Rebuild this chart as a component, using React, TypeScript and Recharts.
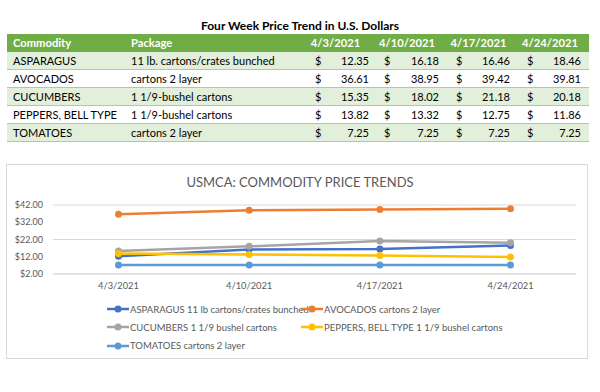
import React from "react";
import { LineChart, Line, XAxis, YAxis, CartesianGrid } from "recharts";

const dates = ["4/3/2021", "4/10/2021", "4/17/2021", "4/24/2021"];
const commodities = ["ASPARAGUS", "AVOCADOS", "CUCUMBERS", "PEPPERS, BELL TYPE", "TOMATOES"];
const packages = [
  "11 lb. cartons/crates bunched",
  "cartons 2 layer",
  "1 1/9-bushel cartons",
  "1 1/9-bushel cartons",
  "cartons 2 layer",
];
const legendNames = [
  "ASPARAGUS 11 lb cartons/crates bunched",
  "AVOCADOS cartons 2 layer",
  "CUCUMBERS 1 1/9 bushel cartons",
  "PEPPERS, BELL TYPE 1 1/9 bushel cartons",
  "TOMATOES cartons 2 layer",
];
const asparagus = [12.35, 16.18, 16.46, 18.46];
const avocados = [36.61, 38.95, 39.42, 39.81];
const cucumbers = [15.35, 18.02, 21.18, 20.18];
const peppers = [13.82, 13.32, 12.75, 11.86];
const tomatoes = [7.25, 7.25, 7.25, 7.25];
const yTicks = [2, 12, 22, 32, 42];
const colors = ["#4472C4", "#ED7D31", "#A5A5A5", "#FFC000", "#5B9BD5"];

const seriesValues = [asparagus, avocados, cucumbers, peppers, tomatoes];
const keys = ["s0", "s1", "s2", "s3", "s4"];
const data = dates.map((d, i) => {
  const row: Record<string, any> = { date: d };
  seriesValues.forEach((s, j) => (row[keys[j]] = s[i]));
  return row;
});

const FONT = "Lato, 'Open Sans', sans-serif";

const colLeft = [13, 131];
const dollarX = [315, 384, 456, 527];
const valueRight = [369, 439, 510, 581];
const headerCenter = [335.5, 407, 478.5, 550];

function Table() {
  const rowTop = 52;
  const rowH = 18;
  const cells: React.ReactNode[] = [];
  cells.push(
    <div key="hdr" style={{ position: "absolute", left: 7, top: 34, width: 582, height: 18, background: "#70AD47" }} />
  );
  const hStyle: React.CSSProperties = {
    position: "absolute",
    top: 34,
    height: 18,
    lineHeight: "18px",
    color: "#fff",
    fontWeight: 700,
    fontSize: 11.2,
    whiteSpace: "nowrap",
  };
  cells.push(<div key="h0" style={{ ...hStyle, left: colLeft[0] }}>Commodity</div>);
  cells.push(<div key="h1" style={{ ...hStyle, left: colLeft[1] }}>Package</div>);
  dates.forEach((d, i) =>
    cells.push(
      <div key={"hd" + i} style={{ ...hStyle, left: headerCenter[i] - 40, width: 80, textAlign: "center" }}>
        {d}
      </div>
    )
  );
  commodities.forEach((c, r) => {
    const top = rowTop + r * rowH;
    cells.push(
      <div
        key={"bg" + r}
        style={{
          position: "absolute",
          left: 7,
          top,
          width: 582,
          height: rowH,
          background: r % 2 === 0 ? "#E2EFDA" : "#FFFFFF",
          borderBottom: "1px solid #A9D08E",
          boxSizing: "border-box",
        }}
      />
    );
    const tStyle: React.CSSProperties = {
      position: "absolute",
      top,
      height: rowH,
      lineHeight: "18px",
      color: "#000",
      fontSize: 11,
      whiteSpace: "nowrap",
    };
    cells.push(<div key={"c" + r} style={{ ...tStyle, left: colLeft[0] }}>{c}</div>);
    cells.push(<div key={"p" + r} style={{ ...tStyle, left: colLeft[1] }}>{packages[r]}</div>);
    seriesValues[r].forEach((v, i) => {
      cells.push(<div key={"d" + r + i} style={{ ...tStyle, left: dollarX[i] }}>$</div>);
      cells.push(
        <div key={"v" + r + i} style={{ ...tStyle, left: valueRight[i] - 50, width: 50, textAlign: "right" }}>
          {v.toFixed(2)}
        </div>
      );
    });
  });
  return <>{cells}</>;
}

export default function App() {
  return (
    <div
      style={{
        position: "absolute",
        left: 0,
        top: 0,
        width: 600,
        height: 392,
        background: "#fff",
        fontFamily: FONT,
        overflow: "hidden",
      }}
    >
      <div
        style={{
          position: "absolute",
          left: 0,
          width: 600,
          top: 17,
          lineHeight: "17px",
          textAlign: "center",
          fontWeight: 700,
          fontSize: 12,
          color: "#000",
        }}
      >
        Four Week Price Trend in U.S. Dollars
      </div>
      <Table />
      <div
        style={{
          position: "absolute",
          left: 6,
          top: 164,
          width: 582,
          height: 195,
          border: "1px solid #D9D9D9",
          boxSizing: "border-box",
        }}
      />
      <div
        style={{
          position: "absolute",
          left: 0,
          width: 600,
          top: 174,
          lineHeight: "16px",
          textAlign: "center",
          fontSize: 13,
          color: "#595959",
        }}
      >
        USMCA: COMMODITY PRICE TRENDS
      </div>
      <div style={{ position: "absolute", left: 6, top: 164 }}>
        <LineChart width={582} height={195} data={data} margin={{ top: 41, right: 12, left: 0, bottom: 65 }}>
          <CartesianGrid horizontal vertical={false} stroke="#D9D9D9" strokeWidth={1} />
          <XAxis
            dataKey="date"
            padding={{ left: 65.5, right: 65.5 }}
            axisLine={{ stroke: "#D9D9D9" }}
            tickLine={false}
            tickSize={0}
            tickMargin={8}
            tick={{ fontSize: 9.3, fill: "#595959", fontFamily: FONT }}
            height={20}
            interval={0}
          />
          <YAxis
            domain={[2, 42]}
            ticks={yTicks}
            width={47}
            axisLine={false}
            tickLine={false}
            tickSize={0}
            tickMargin={10}
            tick={{ fontSize: 9, fill: "#595959", fontFamily: FONT }}
            tickFormatter={(v: number) => "$" + v.toFixed(2)}
          />
          {keys.map((k, i) => (
            <Line
              key={k}
              dataKey={k}
              name={legendNames[i]}
              stroke={colors[i]}
              strokeWidth={2.5}
              dot={{ r: 3.5, fill: colors[i], stroke: colors[i], strokeWidth: 0 }}
              isAnimationActive={false}
            />
          ))}
        </LineChart>
      </div>
      {legendNames.map((n, i) => {
        const col = i % 2;
        const row = Math.floor(i / 2);
        const left = col === 0 ? 107 : 301;
        const top = 302 + row * 18.3;
        return (
          <div
            key={"lg" + i}
            style={{ position: "absolute", left, top, height: 14, display: "flex", alignItems: "center", whiteSpace: "nowrap" }}
          >
            <svg width={22} height={14}>
              <line x1={0} y1={7} x2={22} y2={7} stroke={colors[i]} strokeWidth={2.5} />
              <circle cx={11} cy={7} r={3.5} fill={colors[i]} />
            </svg>
            <span style={{ fontSize: 9.5, color: "#595959", marginLeft: 1 }}>{n}</span>
          </div>
        );
      })}
    </div>
  );
}
